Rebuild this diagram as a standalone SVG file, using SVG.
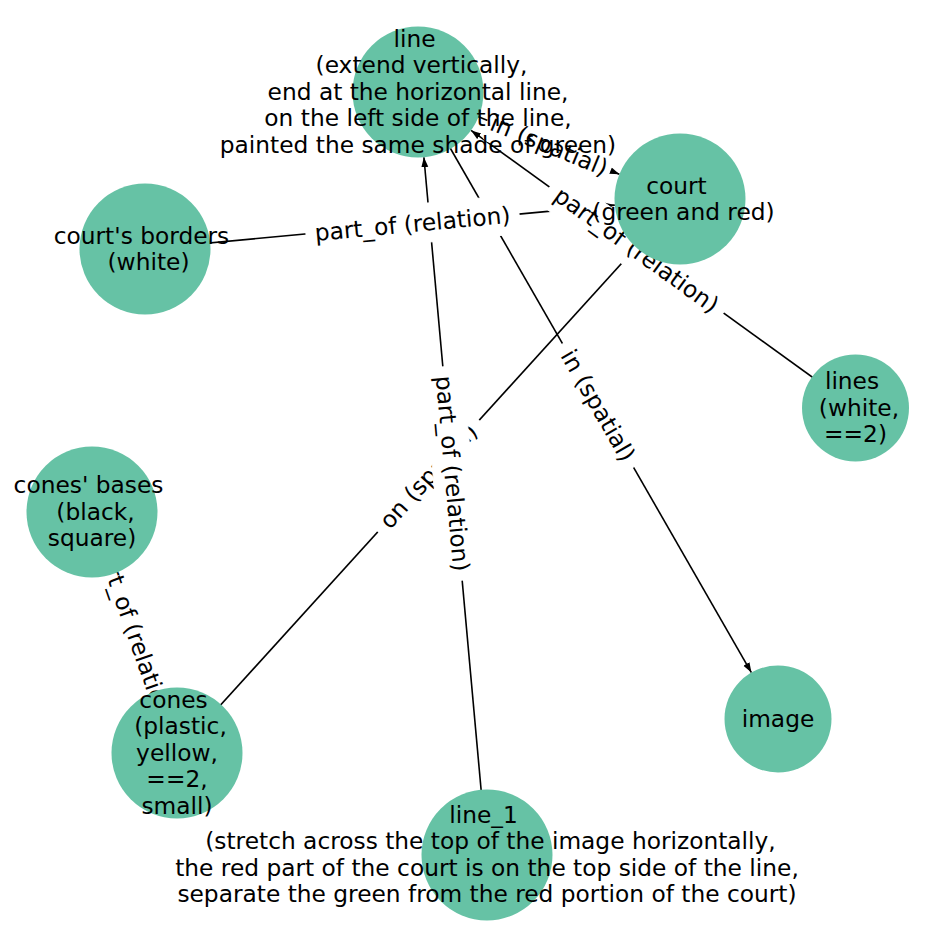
<svg xmlns="http://www.w3.org/2000/svg" width="948" height="948" viewBox="0 0 948 948">
<defs>
<style>
.edge{stroke:#000;stroke-width:1.6;fill:none}
.node{fill:#66c2a5}
.nt{font-family:"DejaVu Sans","Liberation Sans",sans-serif;font-size:23.3px;fill:#000;text-anchor:middle}
.lt{font-family:"DejaVu Sans","Liberation Sans",sans-serif;font-size:23.3px;fill:#000;text-anchor:middle}
.lb{fill:#fff;stroke:#fff}
</style>
<marker id="arr" markerUnits="userSpaceOnUse" markerWidth="12" markerHeight="9" refX="10" refY="3.5" orient="auto">
<path d="M0,0 L10,3.5 L0,7 z" fill="#000"/>
</marker>
</defs>
<rect width="948" height="948" fill="#fff"/>
<g id="edges">
<line class="edge" x1="145" y1="249" x2="614.8" y2="205.1" marker-end="url(#arr)"/>
<line class="edge" x1="418" y1="92" x2="619.4" y2="174.2" marker-end="url(#arr)"/>
<line class="edge" x1="418" y1="92" x2="751.4" y2="672.6" marker-end="url(#arr)"/>
<line class="edge" x1="487" y1="855" x2="423.9" y2="157.2" marker-end="url(#arr)"/>
<line class="edge" x1="855" y1="408" x2="471.1" y2="130.4" marker-end="url(#arr)"/>
<line class="edge" x1="177" y1="753" x2="636" y2="247.5" marker-end="url(#arr)"/>
<line class="edge" x1="92" y1="512" x2="155.2" y2="691.2" marker-end="url(#arr)"/>
</g>
<g id="edge-labels">
<g transform="translate(412.5,224) rotate(-5.34)"><rect class="lb" x="-107" y="-19.5" width="214" height="39" rx="7"/><text class="lt" y="8">part_of (relation)</text></g>
<g transform="translate(549,145.5) rotate(22.2)"><rect class="lb" x="-66" y="-19.5" width="132" height="39" rx="7"/><text class="lt" y="8">in (spatial)</text></g>
<g transform="translate(598,405.5) rotate(60.1)"><rect class="lb" x="-71" y="-19.5" width="142" height="39" rx="7"/><text class="lt" y="8">in (spatial)</text></g>
<g transform="translate(428.5,476) rotate(-47.8)"><rect class="lb" x="-75" y="-19.5" width="150" height="39" rx="7"/><text class="lt" y="8">on (spatial)</text></g>
<g transform="translate(452.5,473.5) rotate(84.8)"><rect class="lb" x="-107" y="-19.5" width="214" height="39" rx="7"/><text class="lt" y="8">part_of (relation)</text></g>
<g transform="translate(636.5,250) rotate(35.9)"><rect class="lb" x="-107" y="-19.5" width="214" height="39" rx="7"/><text class="lt" y="8">part_of (relation)</text></g>
<g transform="translate(134.5,632.5) rotate(70.6)"><rect class="lb" x="-107" y="-19.5" width="214" height="39" rx="7"/><text class="lt" y="8">part_of (relation)</text></g>
</g>
<g id="node-line">
<circle class="node" cx="418" cy="92" r="65.5"/>
<text class="nt"><tspan x="414.5" y="46.5">line</tspan><tspan x="421.5" y="73">(extend vertically,</tspan><tspan x="418" y="99.5">end at the horizontal line,</tspan><tspan x="418" y="126">on the left side of the line,</tspan><tspan x="418" y="152.5">painted the same shade of green)</tspan></text>
</g>
<g id="node-court">
<circle class="node" cx="680" cy="199" r="65.5"/>
<text class="nt"><tspan x="676.5" y="193.5">court</tspan><tspan x="683.5" y="220">(green and red)</tspan></text>
</g>
<g id="node-courts-borders">
<circle class="node" cx="145" cy="249" r="65.5"/>
<text class="nt"><tspan x="141.5" y="243.5">court's borders</tspan><tspan x="148.5" y="270">(white)</tspan></text>
</g>
<g id="node-lines">
<circle class="node" cx="855.5" cy="408" r="53.5"/>
<text class="nt"><tspan x="852" y="389">lines</tspan><tspan x="859" y="415.5">(white,</tspan><tspan x="855.5" y="442">==2)</tspan></text>
</g>
<g id="node-cones-bases">
<circle class="node" cx="92" cy="512" r="65.5"/>
<text class="nt"><tspan x="88.5" y="493">cones' bases</tspan><tspan x="95.5" y="519.5">(black,</tspan><tspan x="92" y="546">square)</tspan></text>
</g>
<g id="node-cones">
<circle class="node" cx="177" cy="753" r="65.5"/>
<text class="nt"><tspan x="173.5" y="707.5">cones</tspan><tspan x="180.5" y="734">(plastic,</tspan><tspan x="177" y="760.5">yellow,</tspan><tspan x="177" y="787">==2,</tspan><tspan x="177" y="813.5">small)</tspan></text>
</g>
<g id="node-image">
<circle class="node" cx="778" cy="719" r="53.5"/>
<text class="nt" x="778" y="727">image</text>
</g>
<g id="node-line-1">
<circle class="node" cx="487" cy="855" r="65.5"/>
<text class="nt"><tspan x="483.5" y="822.5">line_1</tspan><tspan x="490.5" y="849">(stretch across the top of the image horizontally,</tspan><tspan x="487" y="875.5">the red part of the court is on the top side of the line,</tspan><tspan x="487" y="902">separate the green from the red portion of the court)</tspan></text>
</g>
</svg>
